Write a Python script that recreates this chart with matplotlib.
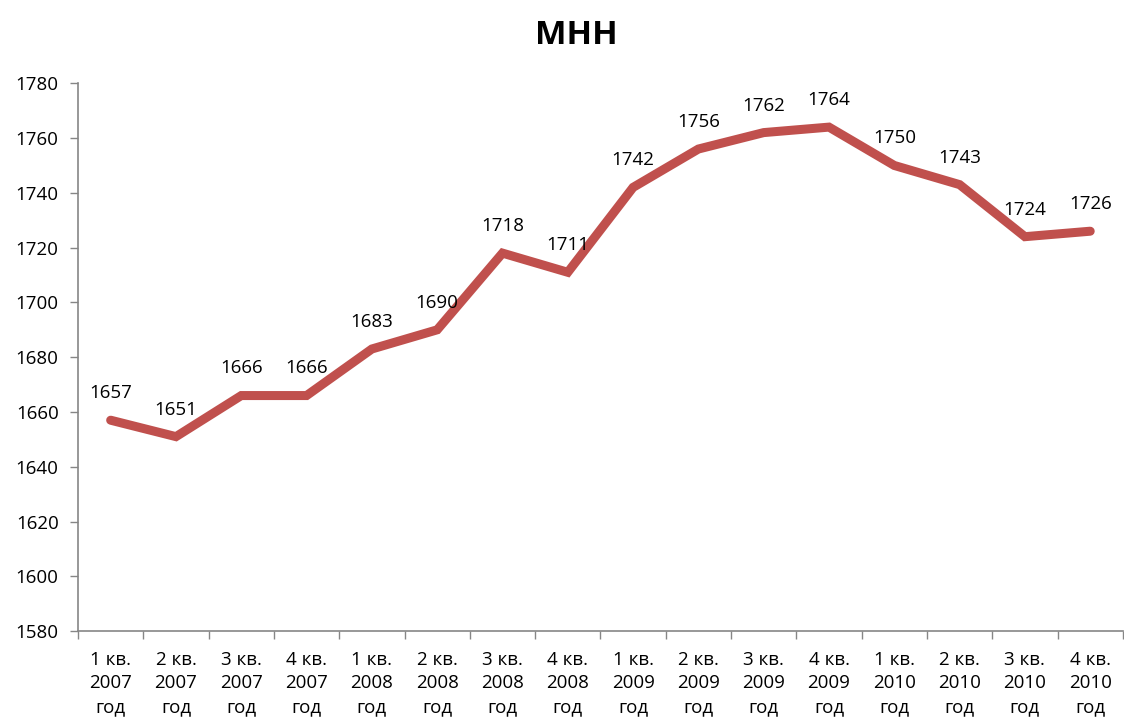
import matplotlib
matplotlib.use("Agg")
import matplotlib.pyplot as plt
import numpy as np

plt.rcParams['font.family'] = ['Open Sans', 'DejaVu Sans']

quarters = ["1 кв.", "2 кв.", "3 кв.", "4 кв."] * 4
years = ["2007"] * 4 + ["2008"] * 4 + ["2009"] * 4 + ["2010"] * 4
values = [1657, 1651, 1666, 1666, 1683, 1690, 1718, 1711,
          1742, 1756, 1762, 1764, 1750, 1743, 1724, 1726]
labels = [f"{q}\n{y}\nгод" for q, y in zip(quarters, years)]
title = "МНН"

fig = plt.figure(figsize=(11.24, 7.18), dpi=100)
ax = fig.add_axes([0.0694, 0.121, 0.9296, 0.763])

x = np.arange(len(values))
ax.plot(x, values, color="#C0504D", linewidth=6.5, solid_capstyle="round", solid_joinstyle="miter")
for xi, v in zip(x, values):
    ax.annotate(str(v), (xi, v), xytext=(0, 13), textcoords="offset points",
                ha="center", va="bottom", fontsize=13.5, color="#000000")

ax.set_xlim(-0.5, len(values) - 0.5)
ax.set_ylim(1580, 1780)
ax.set_yticks(np.arange(1580, 1781, 20))
ax.set_xticks(x)
ax.set_xticklabels(labels, fontsize=13.5, linespacing=1.4)
ax.set_xticks(np.arange(-0.5, len(values), 1), minor=True)
ax.tick_params(axis="x", which="major", length=0, pad=14)
ax.tick_params(axis="x", which="minor", length=6, color="#868686", width=1)
ax.tick_params(axis="y", length=6, color="#868686", width=1, labelsize=13.5, pad=8)

for s in ["top", "right"]:
    ax.spines[s].set_visible(False)
for s in ["left", "bottom"]:
    ax.spines[s].set_color("#868686")
    ax.spines[s].set_linewidth(1.2)

fig.text(0.5125, 0.951, title, ha="center", va="center", fontsize=24, fontweight="bold")

fig.savefig("out.png", dpi=100)
